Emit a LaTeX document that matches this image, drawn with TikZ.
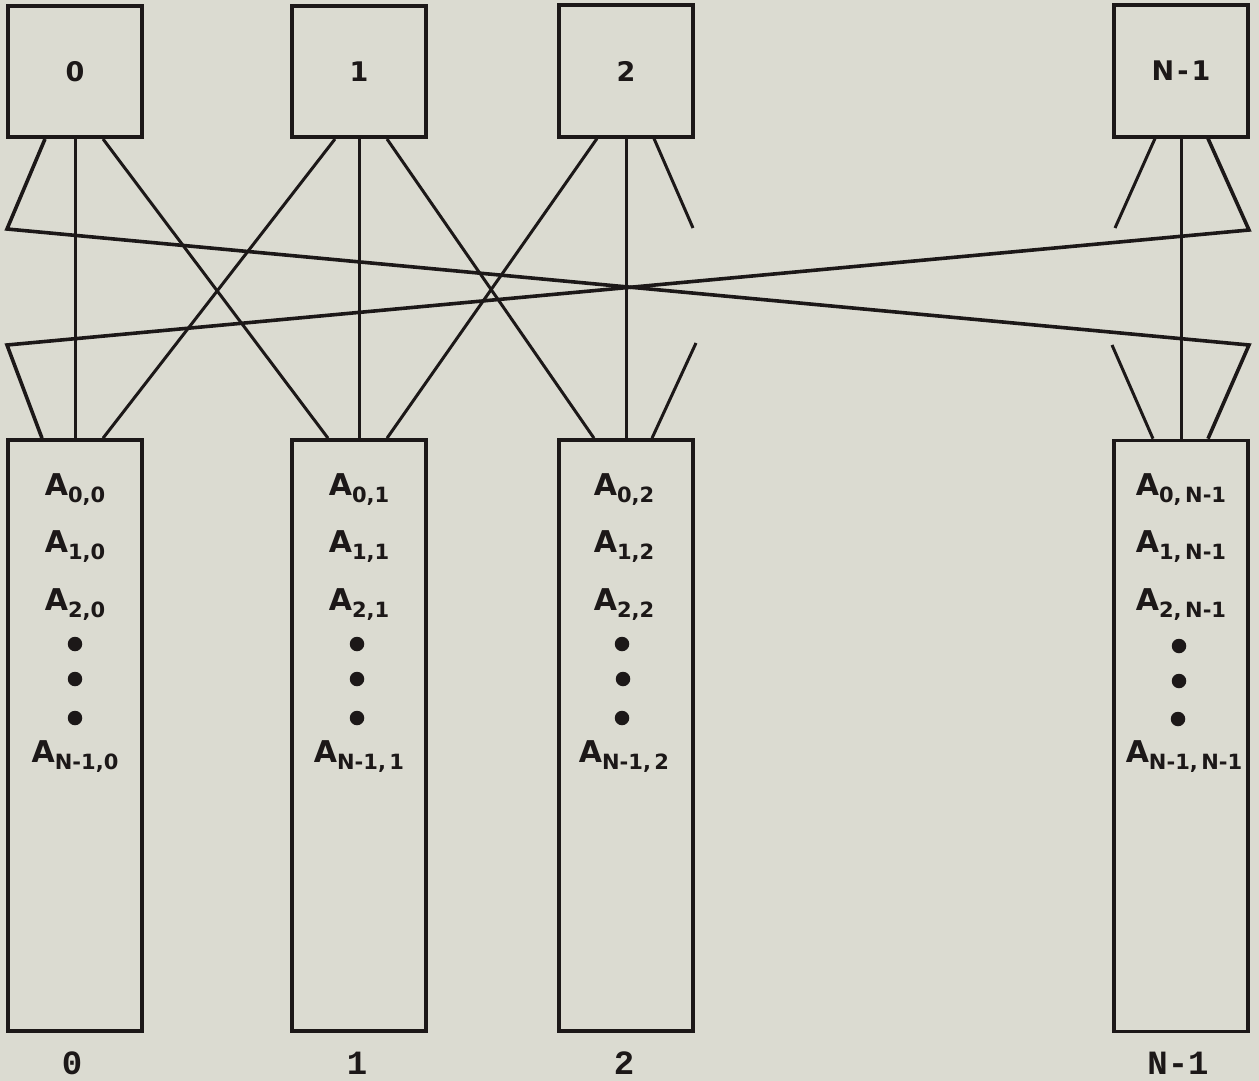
\documentclass[tikz,border=0pt]{standalone}
\usepackage{fontspec}
\setmainfont{DejaVu Sans}
\newfontfamily\labelfont{Liberation Mono}
\definecolor{paper}{RGB}{219,219,209}
\definecolor{ink}{RGB}{28,24,24}
% lowered index after a letter
\newcommand\subidx[1]{\raisebox{-7pt}{\fontsize{21}{21}\selectfont #1}}

\begin{document}
\begin{tikzpicture}[x=1pt,y=-1pt,
  procbox/.style={draw=ink, line width=4pt, minimum width=134pt, minimum height=131pt,
    inner sep=0pt, text=ink, font=\bfseries\fontsize{27}{27}\selectfont},
  memcol/.style={draw=ink, line width=3.6pt, minimum width=134pt, minimum height=591pt, inner sep=0pt},
  link/.style={draw=ink, line width=3pt, line join=miter},
  longlink/.style={draw=ink, line width=3.6pt, line join=miter},
  entry/.style={font=\bfseries\fontsize{30}{30}\selectfont, inner sep=0pt, anchor=base, text=ink},
  dotmark/.style={circle, fill=ink, inner sep=0pt, minimum size=14.5pt},
  collabel/.style={font=\labelfont\bfseries\fontsize{34}{34}\selectfont, inner sep=0pt, text=ink}
]
% page
\fill[paper] (0,0) rectangle (1259,1081);

% processors
\node[procbox] (p0) at (75,71.5) {0};
\node[procbox] (p1) at (359,71.5) {1};
\node[procbox] (p2) at (626,71) {2};
\node[procbox] (pN) at (1181,71) {N\kern3pt-\kern3pt1};

% memory modules
\node[memcol] (m0) at (75,735.5) {};
\node[memcol] (m1) at (359,735.5) {};
\node[memcol] (m2) at (626,735.5) {};
\node[memcol] (mN) at (1181,736) {};

% bend points and free ends of the switch lines
\coordinate (tl) at (7,229);
\coordinate (tr) at (1249,230);
\coordinate (bl) at (7,345);
\coordinate (br) at (1249,345);
\coordinate (p2end) at (693,228);
\coordinate (m2end) at (696,343);
\coordinate (pNend) at (1115,228);
\coordinate (mNend) at (1112,345);

% straight-down links
\draw[link] (p0.south) -- (m0.north);
\draw[link] (p1.south) -- (m1.north);
\draw[link] (p2.south) -- (m2.north);
\draw[link] (pN.south) -- (mN.north);

% crossing links between neighbours
\draw[link] ([xshift=28pt]p0.south) -- ([xshift=-31pt]m1.north);
\draw[link] ([xshift=-24pt]p1.south) -- ([xshift=28pt]m0.north);
\draw[link] ([xshift=28pt]p1.south) -- ([xshift=-32pt]m2.north);
\draw[link] ([xshift=-29pt]p2.south) -- ([xshift=28pt]m1.north);

% wrap-around links
\draw[longlink] ([xshift=-30pt]p0.south) -- (tl) -- (br) -- ([xshift=27pt]mN.north);
\draw[longlink] ([xshift=27pt]pN.south) -- (tr) -- (bl) -- ([xshift=-33pt]m0.north);

% open-ended links
\draw[link] ([xshift=28pt]p2.south) -- (p2end);
\draw[link] ([xshift=26pt]m2.north) -- (m2end);
\draw[link] ([xshift=-26pt]pN.south) -- (pNend);
\draw[link] ([xshift=-28pt]mN.north) -- (mNend);

% contents of module 0
\node[entry] (a00) at (75,495) {A\subidx{0,0}};
\node[entry] (a10) at (75,552) {A\subidx{1,0}};
\node[entry] (a20) at (75,610) {A\subidx{2,0}};
\node[dotmark] (d0a) at (75,644) {};
\node[dotmark] (d0b) at (75,679) {};
\node[dotmark] (d0c) at (75,718) {};
\node[entry] (an0) at (75,762) {A\subidx{N-1,0}};

% contents of module 1
\node[entry] (a01) at (359,495) {A\subidx{0,1}};
\node[entry] (a11) at (359,552) {A\subidx{1,1}};
\node[entry] (a21) at (359,610) {A\subidx{2,1}};
\node[dotmark] (d1a) at (357,644) {};
\node[dotmark] (d1b) at (357,679) {};
\node[dotmark] (d1c) at (357,718) {};
\node[entry] (an1) at (359,762) {A\subidx{N-1,\,1}};

% contents of module 2
\node[entry] (a02) at (624,495) {A\subidx{0,2}};
\node[entry] (a12) at (624,552) {A\subidx{1,2}};
\node[entry] (a22) at (624,610) {A\subidx{2,2}};
\node[dotmark] (d2a) at (622,644) {};
\node[dotmark] (d2b) at (623,679) {};
\node[dotmark] (d2c) at (622,718) {};
\node[entry] (an2) at (624,762) {A\subidx{N-1,\,2}};

% contents of module N-1
\node[entry] (a0n) at (1181,495) {A\subidx{0,\,N-1}};
\node[entry] (a1n) at (1181,552) {A\subidx{1,\,N-1}};
\node[entry] (a2n) at (1181,610) {A\subidx{2,\,N-1}};
\node[dotmark] (dNa) at (1179,646) {};
\node[dotmark] (dNb) at (1179,681) {};
\node[dotmark] (dNc) at (1178,719) {};
\node[entry] (ann) at (1184,762) {A\subidx{N-1,\,N-1}};

% module numbers
\node[collabel] (l0) at (72,1063) {0};
\node[collabel] (l1) at (357,1063) {1};
\node[collabel] (l2) at (624,1063) {2};
\node[collabel] (lN) at (1178,1063) {N-1};
\end{tikzpicture}
\end{document}
